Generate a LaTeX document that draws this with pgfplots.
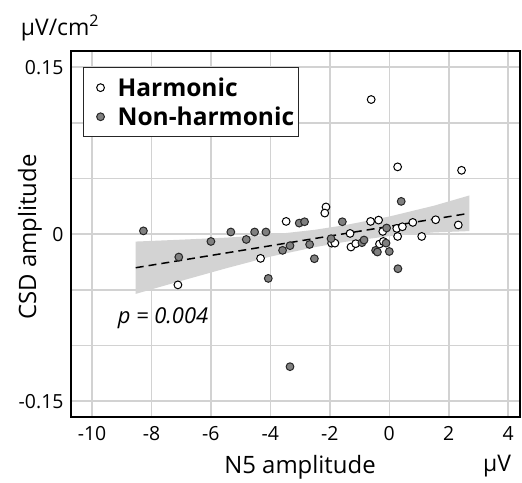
\documentclass[border=0pt]{standalone}
\usepackage{fontspec}
\setmainfont{Open Sans}
\usepackage{pgfplots}
\pgfplotsset{compat=1.18}
\definecolor{gridc}{HTML}{D2D2D2}
\definecolor{bandc}{HTML}{D3D3D3}
\definecolor{fillc}{HTML}{808080}
\pgfplotsset{myleg/.style={legend image code/.code={\draw[white, opacity=0, line width=0.1bp] (0bp,-4bp) rectangle (24bp,4bp); \draw[##1] plot coordinates {(15bp,0bp)};}}}
\begin{document}
\begin{tikzpicture}
\path[use as bounding box] (-71bp,-66bp) rectangle (451bp,417bp);
\begin{axis}[
  scale only axis, width=449bp, height=366bp,
  xmin=-10.706, xmax=4.396, ymin=-0.1642, ymax=0.1646,
  xtick={-10,-8,-6,-4,-2,0,2,4},
  xticklabels={-10,-8,-6,-4,-2,0,2,4},
  ytick={-0.15,0,0.15},
  yticklabels={-0.15,0,0.15},
  minor ytick={-0.1,-0.05,0.05,0.1},
  major tick length=0pt, minor tick length=0pt,
  grid=both,
  minor grid style={draw=gridc, line width=1.6bp},
  major grid style={draw=gridc, line width=1.6bp},
  axis line style={line width=1.5bp},
  tick label style={font=\fontsize{19.5}{22}\selectfont},
  xticklabel style={yshift=-6bp},
  yticklabel style={xshift=-4bp},
  legend cell align=left,
  legend style={at={(0.0267,0.956)}, anchor=north west, draw=black!85, line width=1bp,
    font=\fontsize{24.6}{27}\selectfont\bfseries, inner xsep=2bp, inner ysep=8bp,
    row sep=5bp, /tikz/every odd column/.append style={column sep=6bp}},
]
% confidence band
\addplot[fill=bandc, draw=none, forget plot] coordinates {
 (-8.53,-0.0066) (-7,-0.0049) (-5.5,-0.0031) (-4,-0.0005) (-2.5,0.0040) (-1.5,0.0081) (0,0.0159) (1.5,0.0256) (2.69,0.0348)
 (2.69,0.0028) (1.5,0.0016) (0,-0.0017) (-1.5,-0.0069) (-2.5,-0.0116) (-4,-0.0201) (-5.5,-0.0307) (-7,-0.0419) (-8.53,-0.0536)
} -- cycle;
% regression line
\addplot[black, line width=1.5bp, dash pattern=on 8bp off 5bp, forget plot] coordinates {(-8.53,-0.0301) (2.69,0.0188)};
% Harmonic
\addplot[only marks, mark=*, mark size=3.9pt, mark options={fill=white, draw=black, line width=1bp}, myleg] table {
x y
-7.11 -0.0455
-4.33 -0.0217
-3.47 0.0115
-2.13 0.0245
-2.17 0.019
-1.94 -0.008
-1.83 -0.008
-1.32 0.0007
-1.29 -0.0115
-1.13 -0.0085
-0.63 0.0115
-0.36 0.0127
-0.22 0.0025
-0.33 -0.0088
-0.20 -0.0065
0.25 0.0052
0.28 -0.002
0.44 0.0067
0.79 0.0106
1.09 -0.002
1.56 0.013
2.32 0.0083
-0.61 0.121
0.28 0.0605
2.43 0.0574
};
\addlegendentry{Harmonic}
% Non-harmonic
\addplot[only marks, mark=*, mark size=3.9pt, mark options={fill=fillc, draw=black!85, line width=1bp}, myleg] table {
x y
-8.27 0.003
-7.08 -0.0205
-6.00 -0.0065
-5.33 0.002
-4.81 -0.0047
-4.53 0.002
-4.15 0.002
-4.07 -0.0397
-3.59 -0.0145
-3.34 -0.0103
-3.03 0.010
-2.85 0.0112
-2.68 -0.0092
-2.52 -0.022
-1.96 -0.004
-1.58 0.0112
-0.92 -0.0076
-0.85 -0.0052
-0.46 -0.0145
-0.40 -0.016
-0.09 0.0056
-0.11 -0.008
0.00 -0.0155
0.29 -0.031
0.40 0.0295
-3.34 -0.119
};
\addlegendentry{Non-harmonic}
\end{axis}
\draw[line width=2.6bp] (0,366bp) -- (0,0) -- (449bp,0);
\node[font=\fontsize{23}{26}\selectfont] at (-11bp,389bp) {μV/cm\textsuperscript{2}};
\node[font=\fontsize{24}{28}\selectfont, rotate=90] at (-41bp,180bp) {CSD amplitude};
\node[font=\fontsize{24}{28}\selectfont] at (229bp,-50bp) {N5 amplitude};
\node[font=\fontsize{23}{28}\selectfont] at (426bp,-49bp) {μV};
\node[font=\fontsize{22}{26}\selectfont\itshape] at (92bp,99bp) {p = 0.004};
\end{tikzpicture}
\end{document}
